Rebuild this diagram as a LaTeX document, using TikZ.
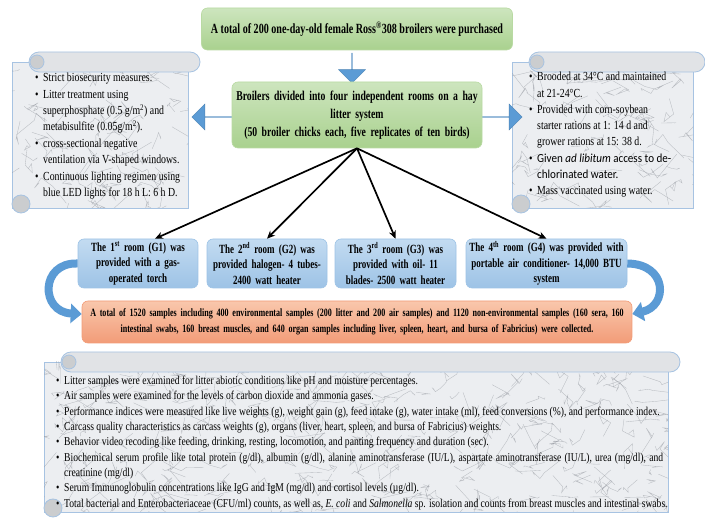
\documentclass[tikz,border=0pt]{standalone}
\usepackage{fontspec}
\setmainfont{Liberation Serif}[FakeStretch=0.8, BoldFeatures={FakeStretch=0.72}]
\newfontfamily\calib{Carlito}[FakeStretch=0.9]
\usetikzlibrary{shapes.arrows,arrows.meta,calc}
\definecolor{arrowblue}{HTML}{5B9BD5}
\definecolor{greenA}{HTML}{CDE5BE}
\definecolor{greenB}{HTML}{A9D18E}
\definecolor{greenE}{HTML}{B9DAA3}
\definecolor{roomA}{HTML}{C3DBF1}
\definecolor{roomB}{HTML}{9DC3E6}
\definecolor{orA}{HTML}{F9C7AC}
\definecolor{orB}{HTML}{F29C78}
\definecolor{scrollB}{HTML}{A7C3E2}
\definecolor{scrollF}{HTML}{ECEEF1}
\definecolor{veinC}{HTML}{8E929A}
\tikzset{
  greenbox/.style={rounded corners=6pt, top color=greenA, bottom color=greenB, draw=greenE, line width=0.6pt, align=center, inner sep=2pt, font=\bfseries},
  roombox/.style={rounded corners=6pt, top color=roomA, bottom color=roomB, draw=roomB, line width=0.6pt, align=center, inner sep=2pt, minimum height=49pt, font=\fontsize{12.5}{15.5}\selectfont\bfseries},
  orbox/.style={rounded corners=6pt, top color=orA, bottom color=orB, draw=orB, line width=0.6pt, align=center, inner sep=2pt, font=\fontsize{11.2}{16}\selectfont\bfseries},
  blockarrow/.style={single arrow, fill=arrowblue, draw=arrowblue!85!black, line width=0.3pt, inner sep=0pt, single arrow head extend=7pt},
  conn/.style={line width=1.7pt, -{Stealth[length=8pt,width=7pt]}},
  curvearrow/.style={draw=arrowblue, line width=8pt, -{Triangle[width=19pt,length=11pt]}},
  scrollbody/.style={fill=scrollF, draw=scrollB, line width=0.8pt},
  scrollroll/.style={fill=scrollF!90!gray, draw=scrollB, line width=0.8pt},
  vein/.style={draw=veinC, line width=0.35pt, opacity=0.55},
  scrolltext/.style={anchor=north west, inner sep=0pt, align=left}
}
\newcommand\myscroll[6]{%
  \filldraw[scrollbody] (#1,#2+10) rectangle (#3-12,#4-6);
  \begin{scope}
    \clip (#1,#2+10) rectangle (#3-12,#4-6);
    \pgfmathsetseed{#5}
    \foreach \k in {1,...,#6}{
      \pgfmathsetmacro\xa{#1+rnd*(#3-#1)}
      \pgfmathsetmacro\ya{#2+rnd*(#4-#2)}
      \pgfmathsetmacro\dxa{(rnd-0.5)*40}
      \pgfmathsetmacro\dya{(rnd-0.5)*34}
      \pgfmathsetmacro\dxb{(rnd-0.5)*26}
      \draw[vein] (\xa,\ya) -- ++(\dxa,\dya) -- ++(\dxb,0.5*\dya) -- ++(0.5*\dxa,-0.6*\dya) -- ++(-0.4*\dxb,0.3*\dya);
    }
  \end{scope}
  \filldraw[scrollroll, rounded corners=10pt] (#1+17,#2) rectangle (#3,#2+20);
  \filldraw[scrollroll, fill=gray!30!scrollF] (#1+25,#2+10) circle (7pt);
  \filldraw[scrollroll, fill=gray!30!scrollF] (#1+9,#4-10) circle (9pt);
}
\newcommand\bl{\makebox[8pt][l]{\textbullet}}
\newcommand\ind{\hspace*{8pt}}
\begin{document}
\begin{tikzpicture}[x=1pt,y=-1pt]
\useasboundingbox[fill=white] (0,0) rectangle (705,518);

% scrolls
\myscroll{12}{52}{200}{214}{3}{90}
\myscroll{512}{52}{705}{214}{7}{90}
\myscroll{44}{352}{680}{518}{11}{340}

% block arrows
\node[blockarrow, minimum height=30pt, minimum width=27pt, shape border rotate=270] (darrow) at (352,68) {};
\node[blockarrow, minimum height=42pt, minimum width=26pt, shape border rotate=180] (larrow) at (213,117) {};
\node[blockarrow, minimum height=40pt, minimum width=26pt] (rarrow) at (502,117) {};

% green boxes
\node[greenbox, minimum width=311pt, minimum height=42pt, font=\fontsize{14}{16}\selectfont\bfseries] (top) at (357,29)
  {A total of 200 one-day-old female Ross\textsuperscript{\textregistered}308 broilers were purchased};
\node[greenbox, minimum width=250pt, minimum height=66pt, text width=246pt, font=\fontsize{13.5}{18}\selectfont\bfseries] (div) at (357,115)
  {Broilers divided into four independent rooms on a hay\\ litter system\\ (50 broiler chicks each, five replicates of ten birds)};

% rooms
\node[roombox, minimum width=120pt, text width=116pt] (g1) at (138,263.5)
  {The 1\textsuperscript{st} room (G1) was\\ provided with a gas-\\ operated torch};
\node[roombox, minimum width=120pt, text width=116pt] (g2) at (267,263.5)
  {The 2\textsuperscript{nd} room (G2) was\\ provided halogen- 4 tubes-\\ 2400 watt heater};
\node[roombox, minimum width=121pt, text width=117pt] (g3) at (395.5,263.5)
  {The 3\textsuperscript{rd} room (G3) was\\ provided with oil- 11\\ blades- 2500 watt heater};
\node[roombox, minimum width=161pt, text width=157pt] (g4) at (546.5,263.5)
  {The 4\textsuperscript{th} room (G4) was provided with\\ portable air conditioner- 14,000 BTU\\ system};

% orange box
\node[orbox, minimum width=550pt, minimum height=42pt, text width=546pt] (orange) at (357,322)
  {A total of 1520 samples including 400 environmental samples (200 litter and 200 air samples) and 1120 non-environmental samples (160 sera, 160\\ intestinal swabs, 160 breast muscles, and 640 organ samples including liver, spleen, heart, and bursa of Fabricius) were collected.};

% connectors
\draw[conn] (div.south) -- ([xshift=17pt]g1.north);
\draw[conn] (div.south) -- (g2.north);
\draw[conn] (div.south) -- (g3.north);
\draw[conn] (div.south) -- (g4.north);

\draw[curvearrow] (g1.west) .. controls (40,262) and (40,312) .. ([yshift=8pt]orange.west);
\draw[curvearrow] (g4.east) .. controls (668,264) and (668,306) .. ([yshift=8pt]orange.east);

% scroll texts
\node[scrolltext, font=\fontsize{12.3}{16.4}\selectfont] (ltext) at (35,73)
  {\bl Strict biosecurity measures.\\
   \bl Litter treatment using\\
   \ind superphosphate (0.5 g/m\textsuperscript{2}) and\\
   \ind metabisulfite (0.05g/m\textsuperscript{2}).\\
   \bl cross-sectional negative\\
   \ind ventilation via V-shaped windows.\\
   \bl Continuous lighting regimen using\\
   \ind blue LED lights for 18 h L: 6 h D.};
\node[scrolltext, font=\fontsize{12.3}{16.3}\selectfont] (rtext) at (529,72)
  {\bl Brooded at 34°C and maintained\\
   \ind at 21-24°C.\\
   \bl Provided with corn-soybean\\
   \ind starter rations at 1: 14 d and\\
   \ind grower rations at 15: 38 d.\\
   \bl {\calib Given \textit{ad libitum} access to de-}\\
   \ind {\calib chlorinated water.}\\
   \bl Mass vaccinated using water.};
\node[scrolltext, font=\fontsize{12}{15.3}\selectfont] (btext) at (56,376)
  {\bl Litter samples were examined for litter abiotic conditions like pH and moisture percentages.\\
   \bl Air samples were examined for the levels of carbon dioxide and ammonia gases.\\
   \bl Performance indices were measured like live weights (g), weight gain (g), feed intake (g), water intake (ml), feed conversions (\%), and performance index.\\
   \bl Carcass quality characteristics as carcass weights (g), organs (liver, heart, spleen, and bursa of Fabricius) weights.\\
   \bl Behavior video recoding like feeding, drinking, resting, locomotion, and panting frequency and duration (sec).\\
   \bl \makebox[599pt][s]{Biochemical serum profile like total protein (g/dl), albumin (g/dl), alanine aminotransferase (IU/L), aspartate aminotransferase (IU/L), urea (mg/dl), and}\\
   \ind creatinine (mg/dl)\\
   \bl Serum Immunoglobulin concentrations like IgG and IgM (mg/dl) and cortisol levels (µg/dl).\\
   \bl Total bacterial and Enterobacteriaceae (CFU/ml) counts, as well as, \textit{E. coli} and \textit{Salmonella} sp. isolation and counts from breast muscles and intestinal swabs.};
\end{tikzpicture}
\end{document}
